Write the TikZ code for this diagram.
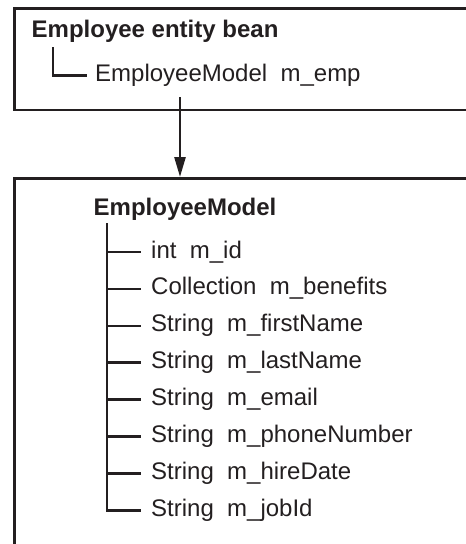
\documentclass[tikz,border=0pt]{standalone}
\usepackage{fontspec}
\setmainfont{Liberation Sans}
\usetikzlibrary{arrows.meta}
\definecolor{ink}{RGB}{35,31,32}

\tikzstyle{mybox} = [draw=ink, line width=2.8pt, rectangle, inner sep=0pt]
\tikzstyle{mytitle} = [anchor=base west, inner sep=0pt, text=ink,
    font=\bfseries\fontsize{24}{28}\selectfont]
\tikzstyle{myfield} = [anchor=base west, inner sep=0pt, text=ink,
    text height=17pt, text depth=5pt, font=\fontsize{24}{28}\selectfont]
\tikzstyle{mytree} = [draw=ink, line width=2.5pt, shorten >=10pt]
\tikzstyle{myarrow} = [draw=ink, line width=2.5pt,
    -{Triangle[length=20pt,width=11pt]}]

\begin{document}
\begin{tikzpicture}[x=1pt,y=-1pt]
\useasboundingbox (0,0) rectangle (466,544);
\clip (0,0) rectangle (466,544);
% both boxes run off the right edge
\node [mybox, minimum width=480pt, minimum height=101.8pt, anchor=north west] (beanbox) at (13,6.7) {};
\node [mybox, minimum width=480pt, minimum height=390pt, anchor=north west] (modelbox) at (13,177) {};

\node [mytitle] (beantitle) at (31.5,37) {Employee entity bean};
\node [myfield] (empfield) at (95,81.7) {EmployeeModel\ \ m\_emp};
\coordinate (beantree) at (53,47);
\draw [mytree, shorten >=8pt] (beantree) |- (empfield.west);

\coordinate (arrowstart) at (180,97);
\draw [myarrow] (arrowstart) -- (arrowstart |- modelbox.north);

\node [mytitle] (modeltitle) at (93.5,215) {EmployeeModel};
\coordinate (modeltree) at (107,223);
\foreach \field [count=\i] in {int\ \ m\_id, Collection\ \ m\_benefits,
    String\ \ m\_firstName, String\ \ m\_lastName, String\ \ m\_email,
    String\ \ m\_phoneNumber, String\ \ m\_hireDate, String\ \ m\_jobId}
{
  \node [myfield] (field\i) at (151,{258+36.9*(\i-1)}) {\field};
  \draw [mytree] (field\i.west -| modeltree) -- (field\i.west);
}
\draw [mytree] (modeltree) |- (field8.west);
\end{tikzpicture}
\end{document}
